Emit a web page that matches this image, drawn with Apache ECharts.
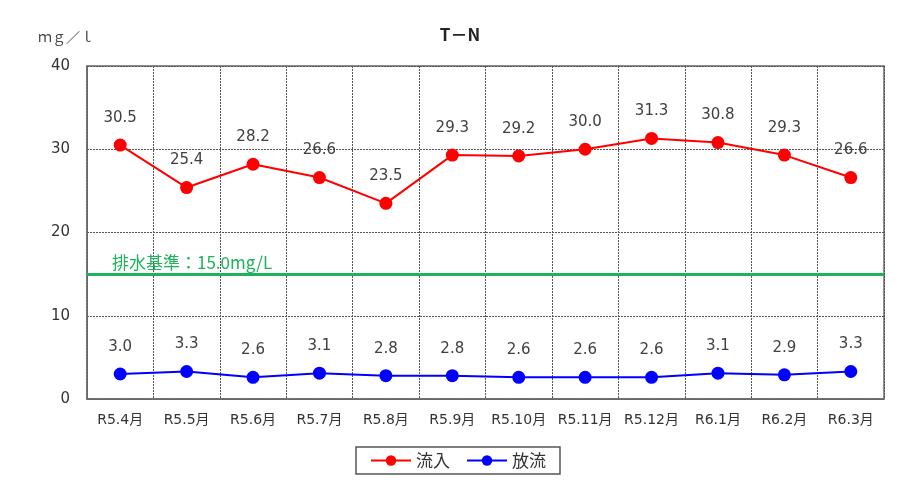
<!DOCTYPE html>
<html>
<head>
<meta charset="utf-8">
<script src="https://cdn.jsdelivr.net/npm/echarts@6/dist/echarts.min.js"></script>
<style>
  html, body { margin: 0; padding: 0; background: #fff; }
  #chart { width: 913px; height: 504px; }
</style>
</head>
<body>
<div id="chart"></div>
<script>
// months on the x axis
const months = ['R5.4月', 'R5.5月', 'R5.6月', 'R5.7月', 'R5.8月', 'R5.9月',
  'R5.10月', 'R5.11月', 'R5.12月', 'R6.1月', 'R6.2月', 'R6.3月'];
// inflow / outflow T-N (mg/l)
const inflow = [30.5, 25.4, 28.2, 26.6, 23.5, 29.3, 29.2, 30.0, 31.3, 30.8, 29.3, 26.6];
const outflow = [3.0, 3.3, 2.6, 3.1, 2.8, 2.8, 2.6, 2.6, 2.6, 3.1, 2.9, 3.3];
const limit = 15.0;

const font = "'DejaVu Sans', 'Noto Sans CJK JP', sans-serif";
const jpFont = "'Noto Sans CJK JP', sans-serif";
const chart = echarts.init(document.getElementById('chart'));

const labelStyle = {
  show: true,
  position: 'top',
  distance: 13,
  color: '#404040',
  fontSize: 15,
  fontFamily: font,
  formatter: p => p.value.toFixed(1)
};

chart.setOption({
  animation: false,
  title: [
    {
      text: 'T－N',
      left: 455, top: 21,
      textAlign: 'center',
      textStyle: { fontSize: 17, fontWeight: 'bold', color: '#222', fontFamily: jpFont }
    },
    {
      text: 'ｍｇ／ｌ',
      left: 33, top: 25,
      textStyle: { fontSize: 14, fontWeight: 'normal', color: '#444', fontFamily: jpFont }
    }
  ],
  grid: {
    left: 87, right: 29, top: 66, bottom: 105,
    show: true, borderColor: '#6a6a6a', borderWidth: 1.5
  },
  legend: {
    left: 356, top: 447, width: 202, height: 32,
    padding: [5, 14, 5, 14],
    borderColor: '#555', borderWidth: 1.5,
    itemWidth: 40, itemHeight: 13, itemGap: 16,
    textStyle: { fontSize: 17, color: '#333', fontFamily: jpFont },
    data: ['流入', '放流']
  },
  xAxis: {
    type: 'category',
    data: months,
    boundaryGap: true,
    axisLine: { lineStyle: { color: '#6a6a6a', width: 1.5 } },
    axisTick: { show: true, length: 0 },
    axisLabel: { color: '#333', fontSize: 14, margin: 14, fontFamily: font, interval: 0 },
    splitLine: { show: true, lineStyle: { color: '#555', type: [2, 1], width: 1 } }
  },
  yAxis: {
    type: 'value',
    min: 0, max: 40, interval: 10,
    axisLine: { show: true, lineStyle: { color: '#6a6a6a', width: 1.5 } },
    axisTick: { show: false },
    axisLabel: { color: '#333', fontSize: 15, margin: 17, fontFamily: font },
    splitLine: { show: true, lineStyle: { color: '#555', type: [2, 1], width: 1 } }
  },
  series: [
    {
      name: '流入',
      type: 'line',
      data: inflow,
      symbol: 'circle',
      symbolSize: 13,
      color: '#ff0000',
      lineStyle: { color: '#ff0000', width: 2 },
      label: labelStyle,
      markLine: {
        silent: true,
        symbol: 'none',
        data: [{ yAxis: limit }],
        lineStyle: { color: '#1db35a', width: 3, type: 'solid' },
        label: {
          show: true,
          position: 'insideStartTop',
          formatter: '排水基準：' + limit.toFixed(1) + 'mg/L',
          color: '#1db35a',
          fontSize: 17,
          fontFamily: jpFont,
          distance: [25, 3]
        }
      }
    },
    {
      name: '放流',
      type: 'line',
      data: outflow,
      symbol: 'circle',
      symbolSize: 13,
      color: '#0000ff',
      lineStyle: { color: '#0000ff', width: 2 },
      label: labelStyle
    }
  ]
});
</script>
</body>
</html>
